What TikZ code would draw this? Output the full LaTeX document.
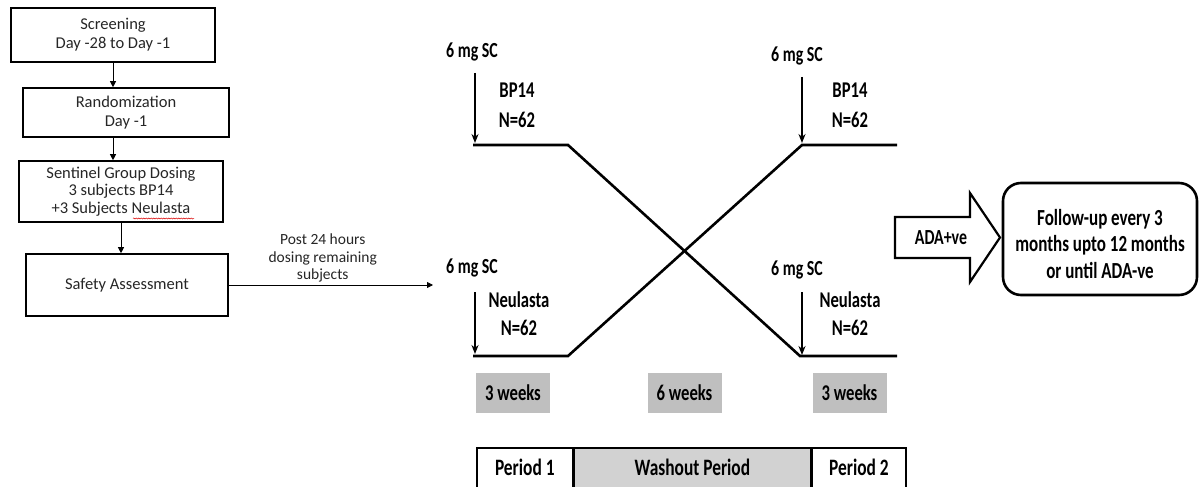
\documentclass[tikz,border=0pt]{standalone}
\usepackage{fontspec}
\setmainfont{Carlito}
\newfontfamily\condfont[FakeStretch=0.74]{Carlito}
\usetikzlibrary{arrows.meta,decorations.pathmorphing}

\begin{document}
\begin{tikzpicture}[x=1pt,y=-1pt,
    stagebox/.style={draw,line width=1.6pt,inner sep=0pt,align=center,text=black!85,
      font=\fontsize{16.5}{19}\selectfont},
    flowarrow/.style={-{Triangle[length=6pt,width=6pt]},line width=0.8pt},
    armline/.style={line width=2.6pt},
    dosearrow/.style={-{Stealth[length=9pt,width=7pt]},line width=1.6pt},
    boldlbl/.style={inner sep=0pt,font=\condfont\bfseries\fontsize{22.5}{26}\selectfont},
    weekbox/.style={boldlbl,fill=gray!50,minimum width=74pt,minimum height=40pt},
    periodcell/.style={boldlbl,draw,line width=1.6pt,anchor=north west,
      text height=28pt,text depth=20pt,minimum width=96pt,font=\condfont\bfseries\fontsize{23.5}{26}\selectfont}]
  \useasboundingbox (0,0) rectangle (1200,487);
  \clip (0,0) rectangle (1200,487);

  % screening flow on the left
  \node[stagebox,minimum width=204pt,minimum height=54pt] (screen) at (113,35) {Screening\\Day -28 to Day -1};
  \node[stagebox,minimum width=206pt,minimum height=49pt] (rand) at (126,112.5) {Randomization\\Day -1};
  \node[stagebox,minimum width=204pt,minimum height=61pt,font=\fontsize{16.5}{17.5}\selectfont] (sentinel) at (121,191.5)
    {Sentinel Group Dosing\\3 subjects BP14\\+3 Subjects Neulasta};
  \node[stagebox,minimum width=202pt,minimum height=62pt] (safety) at (127,285) {Safety Assessment};
  \draw[red!85!black,line width=0.5pt,decorate,decoration={snake,amplitude=0.6pt,segment length=2.5pt}]
    (133,218.5) -- (194,218.5);

  \draw[flowarrow] (screen.south) -- (rand.north -| screen.south);
  \draw[flowarrow] (rand.south -| screen.south) -- (sentinel.north -| screen.south);
  \draw[flowarrow] (sentinel.south) -- (sentinel.south |- safety.north);

  \coordinate (entry) at (433,285);
  \draw[flowarrow] (safety.east) -- (entry)
    node[pos=0.46,above=2pt,align=center,inner sep=0pt,text=black!85,font=\fontsize{15.5}{17.5}\selectfont]
    {Post 24 hours\\dosing remaining\\subjects};

  % crossover arms
  \coordinate (tlHit) at (475,143);
  \coordinate (trHit) at (802,143);
  \coordinate (blHit) at (475,354);
  \coordinate (brHit) at (802,355);
  \draw[armline] (473,145) -- (568,145) -- (800,356) -- (897,356);
  \draw[armline] (473,356) -- (568,356) -- (802,145) -- (897,145);

  \foreach \pos/\x/\y in {tl/472/58, tr/797/62, bl/472/273, br/797/275} {
    \node[boldlbl,anchor=base,font=\condfont\bfseries\fontsize{21.5}{26}\selectfont] (\pos Dose) at (\x,\y) {6 mg SC};
  }
  \node[boldlbl,anchor=base] (tlDrug) at (517,98) {BP14};
  \node[boldlbl,anchor=base] (tlN) at (517,127) {N=62};
  \node[boldlbl,anchor=base] (trDrug) at (850,98) {BP14};
  \node[boldlbl,anchor=base] (trN) at (850,127) {N=62};
  \node[boldlbl,anchor=base] (blDrug) at (519,307) {Neulasta};
  \node[boldlbl,anchor=base] (blN) at (519,335) {N=62};
  \node[boldlbl,anchor=base] (brDrug) at (850,307) {Neulasta};
  \node[boldlbl,anchor=base] (brN) at (850,335) {N=62};

  \draw[dosearrow] (tlHit |- 0,73) -- (tlHit);
  \draw[dosearrow] (trHit |- 0,77) -- (trHit);
  \draw[dosearrow] (blHit |- 0,292) -- (blHit);
  \draw[dosearrow] (brHit |- 0,292) -- (brHit);

  % durations and periods
  \node[weekbox] (wkA) at (513,393) {3 weeks};
  \node[weekbox] (wkB) at (684.5,393) {6 weeks};
  \node[weekbox] (wkC) at (849.5,393) {3 weeks};

  \node[periodcell] (perA) at (476,447) {Period 1};
  \node[periodcell,fill=gray!35,minimum width=236pt] (wash) at (perA.north east) {Washout Period};
  \node[periodcell,minimum width=94pt] (perB) at (wash.north east) {Period 2};

  % follow-up
  \draw[line width=2.2pt,line join=miter] (895,217) -- (970,217) -- (970,193) -- (1000,237.5)
    -- (970,282) -- (970,258) -- (895,258) -- cycle;
  \node[boldlbl,font=\condfont\bfseries\fontsize{21.5}{24}\selectfont] (ada) at (941,237.5) {ADA+ve};
  \node[draw,line width=2.6pt,rounded corners=18pt,minimum width=194pt,minimum height=112pt] (follow) at (1100,239) {};
  \node[boldlbl,align=center,font=\condfont\bfseries\fontsize{23}{26.5}\selectfont] (fup) at (follow.center |- 0,244)
    {Follow-up every 3\\months upto 12 months\\or until ADA-ve};
\end{tikzpicture}
\end{document}
